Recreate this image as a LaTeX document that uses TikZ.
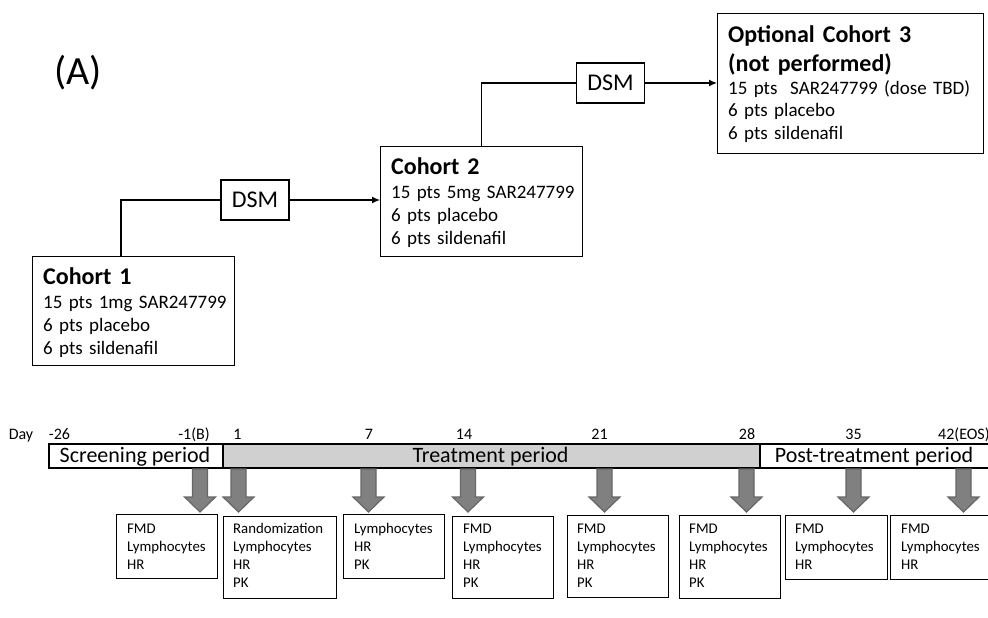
\documentclass[tikz,border=0pt]{standalone}
\usepackage{fontspec}
\setmainfont{Carlito}
\usetikzlibrary{arrows.meta,calc}
\definecolor{tgray}{HTML}{D0D0D0}
\definecolor{agray}{HTML}{808080}
\definecolor{aedge}{HTML}{676767}
\tikzset{
  cbox/.style={draw, line width=1.3pt, inner sep=0pt, anchor=north west},
  dsmbox/.style={draw, line width=1.3pt, minimum width=68pt, minimum height=40pt, inner sep=0pt, font=\fontsize{24}{29}\selectfont},
  ctitle/.style={anchor=base west, inner sep=0pt, text width=260pt, align=left, font=\fontsize{24}{29}\selectfont\bfseries},
  cbody/.style={anchor=base west, inner sep=0pt, text width=260pt, align=left, font=\fontsize{19}{23}\selectfont},
  conn/.style={line width=1.3pt},
  sbox/.style={draw, line width=1.1pt, inner sep=0pt, anchor=north west},
  stext/.style={anchor=base west, inner sep=0pt, text width=100pt, align=left, font=\fontsize{14.8}{18.3}\selectfont},
  daylab/.style={anchor=base, inner sep=0pt, font=\fontsize{16}{19}\selectfont},
  period/.style={draw, line width=2.2pt, inner sep=0pt, anchor=north west, minimum height=24pt},
  plabel/.style={anchor=base, inner sep=0pt, font=\fontsize{22}{26}\selectfont},
  garrow/.pic={\filldraw[fill=agray, draw=aedge, line width=1.2pt] (-7.5,0) -- (7.5,0) -- (7.5,28) -- (15.5,28) -- (0,43) -- (-15.5,28) -- (-7.5,28) -- cycle;}
}
\begin{document}
\begin{tikzpicture}[x=1pt, y=-1pt]
\clip (0,0) rectangle (988,618);
\fill[white] (0,0) rectangle (988,618);

% label
\node[font=\fontsize{40}{48}\selectfont, inner sep=0pt] (lab) at (78,73) {(A)};

% cohort boxes
\node[cbox, minimum width=202pt, minimum height=109pt] (c1) at (32,256) {};
\node[ctitle] (c1t) at (43,284) {Cohort 1};
\node[cbody] (c1b) at (43,308) {15 pts 1mg SAR247799\\6 pts placebo\\6 pts sildenafil};

\node[cbox, minimum width=202pt, minimum height=110pt] (c2) at (380,146) {};
\node[ctitle] (c2t) at (391,174) {Cohort 2};
\node[cbody] (c2b) at (391,198) {15 pts 5mg SAR247799\\6 pts placebo\\6 pts sildenafil};

\node[cbox, minimum width=266pt, minimum height=140pt] (c3) at (717,13) {};
\node[ctitle] (c3t) at (728,43) {Optional Cohort 3\\(not performed)};
\node[cbody] (c3b) at (728,94) {15 pts\ \ SAR247799 (dose TBD)\\6 pts placebo\\6 pts sildenafil};

% DSM boxes
\node[dsmbox] (dsm1) at (255,200) {DSM};
\node[dsmbox] (dsm2) at (610.5,83) {DSM};

% connectors
\draw[conn] ($(c1.north west)+(89,0)$) |- (dsm1.west);
\draw[conn,-{Latex[length=8pt,width=7pt]}] (dsm1.east) -- (dsm1.east -| c2.west);
\draw[conn] (c2.north) |- (dsm2.west);
\draw[conn,-{Latex[length=8pt,width=7pt]}] (dsm2.east) -- (dsm2.east -| c3.west);

% timeline
\node[period, minimum width=174pt] (scr) at (48,443) {};
\node[period, minimum width=537pt, fill=tgray] (trt) at (222,443) {};
\node[period, minimum width=232pt] (post) at (759,443) {};
\node[plabel] (scrl) at (135,462.5) {Screening period};
\node[plabel] (trtl) at (490.5,462.5) {Treatment period};
\node[plabel] (postl) at (874,462.5) {Post-treatment period};

% day labels
\node[daylab] (dday) at (21,439) {Day};
\node[daylab] (d1) at (59.5,439) {-26};
\node[daylab] (d2) at (194,439) {-1(B)};
\node[daylab] (d3) at (237.5,439) {1};
\node[daylab] (d4) at (369,439) {7};
\node[daylab] (d5) at (464,439) {14};
\node[daylab] (d6) at (599.5,439) {21};
\node[daylab] (d7) at (747,439) {28};
\node[daylab] (d8) at (853.5,439) {35};
\node[daylab, anchor=base west] (d9) at (938,439) {42(EOS)};

% block arrows
\pic (a1) at (200,469) {garrow};
\pic (a2) at (238.5,469) {garrow};
\pic (a3) at (368.5,469) {garrow};
\pic (a4) at (468,469) {garrow};
\pic (a5) at (604.5,469) {garrow};
\pic (a6) at (746.5,469) {garrow};
\pic (a7) at (853.5,469) {garrow};
\pic (a8) at (963.5,469) {garrow};

% assessment boxes
\node[sbox, minimum width=101pt, minimum height=64pt] (b1) at (116,514) {};
\node[stext] (b1t) at (127,533) {FMD\\Lymphocytes\\HR};
\node[sbox, minimum width=113pt, minimum height=82pt] (b2) at (223,516) {};
\node[stext] (b2t) at (233,533) {Randomization\\Lymphocytes\\HR\\PK};
\node[sbox, minimum width=101pt, minimum height=64pt] (b3) at (343,514) {};
\node[stext] (b3t) at (354,533) {Lymphocytes\\HR\\PK};
\node[sbox, minimum width=101pt, minimum height=82pt] (b4) at (452,516) {};
\node[stext] (b4t) at (463,533) {FMD\\Lymphocytes\\HR\\PK};
\node[sbox, minimum width=101pt, minimum height=82pt] (b5) at (567,515) {};
\node[stext] (b5t) at (577,533) {FMD\\Lymphocytes\\HR\\PK};
\node[sbox, minimum width=101pt, minimum height=83pt] (b6) at (679,515) {};
\node[stext] (b6t) at (689,533) {FMD\\Lymphocytes\\HR\\PK};
\node[sbox, minimum width=102pt, minimum height=64pt] (b7) at (785,515) {};
\node[stext] (b7t) at (795,533) {FMD\\Lymphocytes\\HR};
\node[sbox, minimum width=110pt, minimum height=64pt] (b8) at (890,515) {};
\node[stext] (b8t) at (901,533) {FMD\\Lymphocytes\\HR};
\end{tikzpicture}
\end{document}
